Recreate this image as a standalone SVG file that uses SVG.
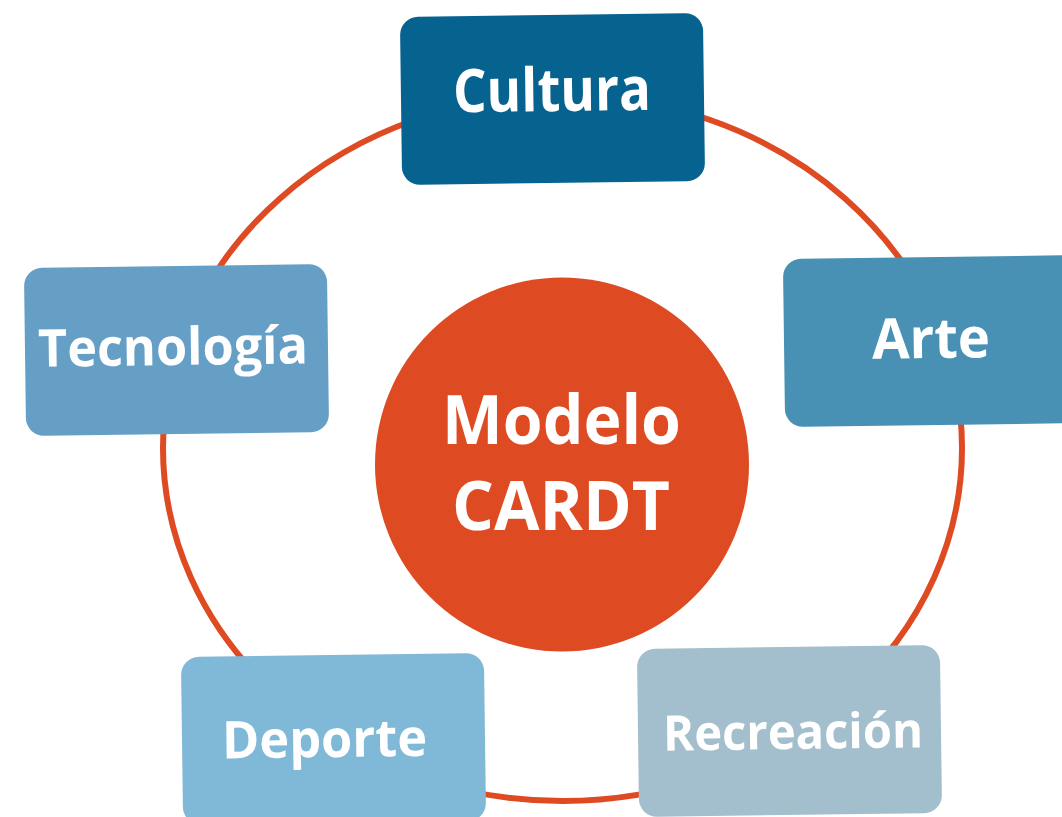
<svg xmlns="http://www.w3.org/2000/svg" width="1062" height="817" viewBox="0 0 1062 817">
<style>
.lbl{font-family:"Open Sans","Liberation Sans",sans-serif;font-weight:700;fill:#ffffff;text-anchor:middle}
.box{stroke:none}
</style>
<rect width="1062" height="817" fill="#ffffff"/>
<g id="connectors">
<ellipse cx="562.5" cy="448" rx="399.5" ry="353" fill="none" stroke="#DE4B23" stroke-width="6"/>
</g>
<g id="center">
<circle cx="562" cy="464.5" r="187" fill="#DE4B23"/>
<text class="lbl" x="561.5" y="444" font-size="68" textLength="239" lengthAdjust="spacingAndGlyphs">Modelo</text>
<text class="lbl" x="561" y="530" font-size="68" textLength="218" lengthAdjust="spacingAndGlyphs">CARDT</text>
</g>
<g id="cultura" transform="rotate(-0.75 552.5 99)">
<rect class="box" x="401" y="15" width="303" height="168" rx="18" fill="#06638F"/>
<text class="lbl" x="552" y="111" font-size="60" textLength="198" lengthAdjust="spacingAndGlyphs">Cultura</text>
</g>
<g id="arte" transform="rotate(-0.75 935 341)">
<rect class="box" x="784" y="257" width="303" height="168" rx="18" fill="#4890B4"/>
<text class="lbl" x="931" y="358" font-size="56" textLength="118" lengthAdjust="spacingAndGlyphs">Arte</text>
</g>
<g id="tecnologia" transform="rotate(-0.75 176.5 350)">
<rect class="box" x="25" y="266" width="303" height="168" rx="18" fill="#659FC5"/>
<text class="lbl" x="173" y="365" font-size="52" textLength="270" lengthAdjust="spacingAndGlyphs">Tecnología</text>
</g>
<g id="deporte" transform="rotate(-0.75 333 739)">
<rect class="box" x="182" y="655" width="303" height="168" rx="18" fill="#80B8D8"/>
<text class="lbl" x="324.5" y="757" font-size="52" textLength="205" lengthAdjust="spacingAndGlyphs">Deporte</text>
</g>
<g id="recreacion" transform="rotate(-0.75 789 731)">
<rect class="box" x="638" y="647" width="303" height="168" rx="18" fill="#A3BECC"/>
<text class="lbl" x="793" y="749" font-size="49" textLength="260" lengthAdjust="spacingAndGlyphs">Recreación</text>
</g>
</svg>
